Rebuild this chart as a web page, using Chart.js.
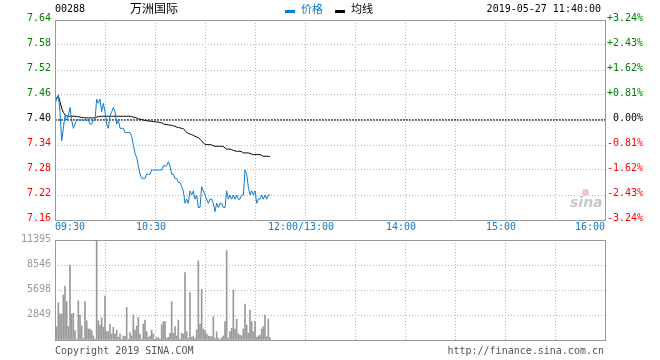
<!DOCTYPE html>
<html>
<head>
<meta charset="utf-8">
<script src="https://cdn.jsdelivr.net/npm/chart.js@4.4.0/dist/chart.umd.min.js"></script>
<style>
body { margin: 0; background: #fff; width: 660px; height: 360px; position: relative; overflow: hidden; }
canvas { position: absolute; left: 0; }
.t { position: absolute; white-space: nowrap; font-family: "DejaVu Sans Mono", monospace; font-size: 10px; line-height: 10px; }
.cjk { position: absolute; white-space: nowrap; font-family: "Noto Sans CJK SC", sans-serif; }
.barra { position: absolute; width: 10px; height: 3px; }
</style>
</head>
<body>
<canvas id="precioChart" width="660" height="232" style="top:0"></canvas>
<canvas id="volumenChart" width="660" height="120" style="top:232px"></canvas>

<div class="t" style="left:55px;top:4px;color:#000">00288</div>
<div class="cjk" style="left:130px;top:2px;font-size:12px;line-height:12px;color:#000">万洲国际</div>
<div class="barra" style="left:285px;top:10px;background:#0c7bd0"></div>
<div class="cjk" style="left:301px;top:3px;font-size:11px;line-height:11px;color:#0c7bd0">价格</div>
<div class="barra" style="left:335px;top:10px;background:#000"></div>
<div class="cjk" style="left:351px;top:3px;font-size:11px;line-height:11px;color:#000">均线</div>
<div class="t" style="right:59px;top:4px;color:#000">2019-05-27 11:40:00</div>
<div class="t" style="left:55px;top:346px;color:#555">Copyright 2019 SINA.COM</div>
<div class="t" style="right:56px;top:346px;color:#555">http://finance.sina.com.cn</div>
<div style="position:absolute;left:570px;top:194px;font:italic bold 14px 'DejaVu Sans';color:#c8c8c8">sina</div>
<div style="position:absolute;left:582px;top:189px;width:7px;height:7px;border-radius:50%;background:#f3c4c4"></div>

<script>
// Datos del gráfico (minutos desde las 09:30)
const cierreAnterior = 7.40;

const precios = [
    7.44, 7.45, 7.46, 7.42, 7.35, 7.38, 7.41, 7.40, 7.41, 7.43,
    7.40, 7.38, 7.39, 7.40, 7.40, 7.40, 7.40, 7.40, 7.40, 7.40,
    7.40, 7.39, 7.39, 7.40, 7.40, 7.45, 7.44, 7.45, 7.42, 7.44,
    7.42, 7.39, 7.38, 7.41, 7.42, 7.43, 7.42, 7.39, 7.40, 7.38,
    7.38, 7.38, 7.37, 7.37, 7.37, 7.37, 7.36, 7.34, 7.32, 7.31,
    7.29, 7.27, 7.26, 7.26, 7.26, 7.27, 7.27, 7.27, 7.28, 7.28,
    7.28, 7.28, 7.28, 7.28, 7.28, 7.29, 7.29, 7.29, 7.30, 7.29,
    7.27, 7.27, 7.26, 7.26, 7.25, 7.25, 7.24, 7.23, 7.20, 7.21,
    7.20, 7.23, 7.22, 7.23, 7.21, 7.22, 7.19, 7.19, 7.24, 7.23,
    7.22, 7.21, 7.20, 7.21, 7.21, 7.20, 7.18, 7.20, 7.19, 7.20,
    7.20, 7.19, 7.19, 7.23, 7.21, 7.22, 7.21, 7.22, 7.21, 7.22,
    7.21, 7.21, 7.22, 7.22, 7.28, 7.27, 7.24, 7.22, 7.23, 7.22,
    7.23, 7.20, 7.21, 7.21, 7.22, 7.21, 7.22, 7.21, 7.22, 7.22
];

const promedio = [
    7.444, 7.454, 7.458, 7.444, 7.428, 7.418, 7.412, 7.410, 7.409, 7.409,
    7.409, 7.409, 7.409, 7.408, 7.408, 7.407, 7.406, 7.406, 7.405, 7.405,
    7.405, 7.405, 7.405, 7.405, 7.405, 7.407, 7.408, 7.409, 7.409, 7.409,
    7.409, 7.409, 7.409, 7.409, 7.409, 7.409, 7.409, 7.409, 7.409, 7.409,
    7.409, 7.409, 7.409, 7.409, 7.409, 7.409, 7.408, 7.407, 7.406, 7.405,
    7.403, 7.402, 7.401, 7.400, 7.399, 7.398, 7.398, 7.397, 7.397, 7.396,
    7.396, 7.395, 7.395, 7.394, 7.393, 7.391, 7.389, 7.389, 7.388, 7.388,
    7.387, 7.386, 7.385, 7.383, 7.382, 7.381, 7.380, 7.379, 7.375, 7.370,
    7.368, 7.366, 7.365, 7.363, 7.361, 7.359, 7.358, 7.354, 7.350, 7.345,
    7.341, 7.341, 7.341, 7.341, 7.340, 7.338, 7.337, 7.337, 7.337, 7.337,
    7.337, 7.336, 7.333, 7.330, 7.330, 7.330, 7.329, 7.327, 7.326, 7.325,
    7.325, 7.325, 7.324, 7.321, 7.321, 7.321, 7.321, 7.320, 7.318, 7.317,
    7.317, 7.317, 7.317, 7.317, 7.315, 7.313, 7.313, 7.313, 7.313, 7.312
];

const volumen = [
    5127, 1519, 4254, 2962, 2962, 5127, 6153, 4368, 1519, 8546,
    2962, 3038, 1063, 76, 4482, 2849, 1595, 190, 4368, 2203,
    1253, 1253, 1063, 456, 114, 11395, 2203, 1709, 2545, 1443,
    5013, 950, 950, 1823, 684, 1443, 684, 1139, 304, 684,
    76, 456, 380, 3722, 76, 836, 456, 2849, 1139, 1595,
    2583, 684, 114, 1823, 2279, 950, 304, 456, 1139, 684,
    76, 266, 266, 114, 1709, 2089, 2089, 190, 304, 760,
    4368, 760, 1519, 456, 2279, 114, 760, 684, 7672, 950,
    190, 5393, 304, 456, 190, 1139, 9039, 1823, 5773, 1253,
    1063, 684, 456, 380, 380, 2659, 190, 950, 190, 76,
    266, 456, 2089, 10179, 190, 950, 1329, 5697, 1253, 2355,
    684, 570, 456, 1253, 4102, 1709, 760, 3418, 2089, 950,
    2089, 304, 456, 570, 1253, 1519, 2849, 380, 2393, 266
];

const precioTicks = [7.64, 7.58, 7.52, 7.46, 7.40, 7.34, 7.28, 7.22, 7.16];
const precioLabels = ['7.64', '7.58', '7.52', '7.46', '7.40', '7.34', '7.28', '7.22', '7.16'];
const porcentajeLabels = ['+3.24%', '+2.43%', '+1.62%', '+0.81%', ' 0.00%', '-0.81%', '-1.62%', '-2.43%', '-3.24%'];
const tiempoTicks = [0, 60, 150, 210, 270, 330];
const tiempoLabels = ['09:30', '10:30', '12:00/13:00', '14:00', '15:00', '16:00'];
const volumenTicks = [11395, 8546.25, 5697.5, 2848.75, 0];
const volumenLabels = ['11395', '8546', '5698', '2849', ''];

const azul = '#0c7bd0';
const verde = '#008000';
const rojo = '#ff0000';
const gris = '#999999';
const fuente = '10px "DejaVu Sans Mono"';

Chart.defaults.animation = false;

// Escala de tiempo común (0..330 minutos de negociación)
function escalaX() {
    return {
        type: 'linear', min: 0, max: 330, offset: false,
        afterBuildTicks: s => { s.ticks = [0, 30, 60, 90, 120, 150, 180, 210, 240, 270, 300, 330].map(v => ({ value: v })); },
        afterFit: s => { s.height = 12; },
        ticks: { display: false },
        grid: { color: '#b4b4b4', drawTicks: false, offset: false },
        border: { display: false, dash: [1, 2] }
    };
}

function marco(chart) {
    const ctx = chart.ctx, a = chart.chartArea;
    ctx.save();
    ctx.strokeStyle = gris;
    ctx.lineWidth = 1;
    ctx.strokeRect(a.left + 0.5, a.top + 0.5, a.width, a.height);
    ctx.restore();
}

// Etiquetas del panel de precios
const etiquetasPrecio = {
    id: 'etiquetasPrecio',
    afterDraw(chart) {
        marco(chart);
        const ctx = chart.ctx, a = chart.chartArea;
        const ys = chart.scales.y, xs = chart.scales.x;
        ctx.save();
        ctx.font = fuente;
        ctx.textBaseline = 'alphabetic';
        precioTicks.forEach((v, i) => {
            const py = ys.getPixelForValue(v);
            ctx.fillStyle = v > cierreAnterior ? verde : (v < cierreAnterior ? rojo : '#000');
            ctx.textAlign = 'right';
            ctx.fillText(precioLabels[i], a.left - 4, py + 1);
            ctx.textAlign = 'left';
            ctx.fillText(porcentajeLabels[i], a.right + 2, py + 1);
        });
        ctx.fillStyle = azul;
        tiempoTicks.forEach((v, i) => {
            const px = xs.getPixelForValue(v);
            if (i === 0) { ctx.textAlign = 'left'; ctx.fillText(tiempoLabels[i], px, 230); }
            else if (i === tiempoTicks.length - 1) { ctx.textAlign = 'right'; ctx.fillText(tiempoLabels[i], px, 230); }
            else { ctx.textAlign = 'center'; ctx.fillText(tiempoLabels[i], px - 4, 230); }
        });
        ctx.restore();
    }
};

const etiquetasVolumen = {
    id: 'etiquetasVolumen',
    afterDraw(chart) {
        marco(chart);
        const ctx = chart.ctx, a = chart.chartArea, ys = chart.scales.y;
        ctx.save();
        ctx.font = fuente;
        ctx.fillStyle = gris;
        ctx.textAlign = 'right';
        volumenTicks.forEach((v, i) => {
            ctx.fillText(volumenLabels[i], a.left - 4, ys.getPixelForValue(v) + 1.5);
        });
        ctx.restore();
    }
};

const minutos = precios.map((p, i) => i);

new Chart(document.getElementById('precioChart'), {
    type: 'line',
    data: {
        datasets: [{
            label: '价格',
            data: minutos.map(m => ({ x: m, y: precios[m] })),
            borderColor: azul, borderWidth: 1, pointRadius: 0, tension: 0
        }, {
            label: '均线',
            data: minutos.map(m => ({ x: m, y: promedio[m] })),
            borderColor: '#000', borderWidth: 1, pointRadius: 0, tension: 0
        }, {
            label: '昨收',
            data: [{ x: 0, y: cierreAnterior }, { x: 330, y: cierreAnterior }],
            borderColor: '#000', borderWidth: 1, borderDash: [2, 1], pointRadius: 0
        }]
    },
    options: {
        responsive: false,
        devicePixelRatio: 1,
        layout: { padding: { top: 20, left: 0, right: 0, bottom: 0 } },
        plugins: { legend: { display: false }, tooltip: { enabled: false } },
        scales: {
            x: escalaX(),
            y: {
                position: 'left', min: 7.16, max: 7.64,
                afterBuildTicks: s => { s.ticks = precioTicks.map(v => ({ value: v })); },
                afterFit: s => { s.width = 55; },
                ticks: { display: false },
                grid: { color: '#b4b4b4', drawTicks: false },
                border: { display: false, dash: [1, 2] }
            },
            y2: {
                position: 'right', min: 7.16, max: 7.64,
                afterFit: s => { s.width = 55; },
                ticks: { display: false },
                grid: { display: false },
                border: { display: false }
            }
        }
    },
    plugins: [etiquetasPrecio]
});

new Chart(document.getElementById('volumenChart'), {
    type: 'bar',
    data: {
        datasets: [{
            label: '成交量',
            data: minutos.map(m => ({ x: m, y: volumen[m] })),
            backgroundColor: gris,
            barThickness: 1
        }]
    },
    options: {
        responsive: false,
        devicePixelRatio: 1,
        layout: { padding: { top: 8, left: 0, right: 0, bottom: 0 } },
        plugins: { legend: { display: false }, tooltip: { enabled: false } },
        scales: {
            x: escalaX(),
            y: {
                position: 'left', min: 0, max: 11395,
                afterBuildTicks: s => { s.ticks = volumenTicks.map(v => ({ value: v })); },
                afterFit: s => { s.width = 55; },
                ticks: { display: false },
                grid: { color: '#b4b4b4', drawTicks: false },
                border: { display: false, dash: [1, 2] }
            },
            y2: {
                position: 'right', min: 0, max: 11395,
                afterFit: s => { s.width = 55; },
                ticks: { display: false },
                grid: { display: false },
                border: { display: false }
            }
        }
    },
    plugins: [etiquetasVolumen]
});
</script>
</body>
</html>
